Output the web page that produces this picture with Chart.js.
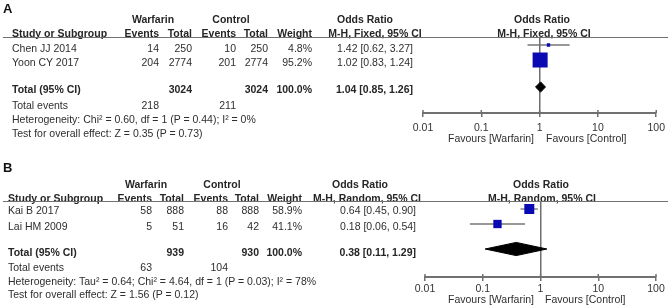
<!DOCTYPE html>
<html><head><meta charset="utf-8">
<script src="https://cdn.jsdelivr.net/npm/chart.js@4/dist/chart.umd.min.js"></script>
<style>
html,body{margin:0;padding:0;background:#fff;}
#wrap{position:relative;width:670px;height:308px;overflow:hidden;font-family:"Liberation Sans",Arial,sans-serif;font-size:10.5px;color:#2e2e2e;}
.t{position:absolute;white-space:nowrap;line-height:12px;}
.b{font-weight:bold;color:#262626;}
.lbl{font-weight:bold;font-size:13px;line-height:14px;color:#111;}
.cv{position:absolute;left:0;width:670px;height:154px;}
.hl{position:absolute;left:3px;width:665px;height:0;border-top:1.5px solid #707070;}
</style></head><body>
<div id="wrap">
 <div class="cv" style="top:0"><canvas id="cA" width="670" height="154"></canvas></div>
 <div class="cv" style="top:154px"><canvas id="cB" width="670" height="154"></canvas></div>
</div>
<script>
// ---------- DATA (panel A) ----------
const studiesA      = ["Chen JJ 2014", "Yoon CY 2017"];
const warfEventsA   = [14, 204];
const warfTotalA    = [250, 2774];
const ctrlEventsA   = [10, 201];
const ctrlTotalA    = [250, 2774];
const weightA       = [4.8, 95.2];
const orA           = [1.42, 1.02];
const orLowA        = [0.62, 0.83];
const orHighA       = [3.27, 1.24];
const pooledA       = [1.04, 0.85, 1.26];
const totalsA       = [3024, 3024];
const totalEventsA  = [218, 211];
const hetA          = "Heterogeneity: Chi\u00B2 = 0.60, df = 1 (P = 0.44); I\u00B2 = 0%";
const testA         = "Test for overall effect: Z = 0.35 (P = 0.73)";
const methodA       = "M-H, Fixed, 95% CI";

// ---------- DATA (panel B) ----------
const studiesB      = ["Kai B 2017", "Lai HM 2009"];
const warfEventsB   = [58, 5];
const warfTotalB    = [888, 51];
const ctrlEventsB   = [88, 16];
const ctrlTotalB    = [888, 42];
const weightB       = [58.9, 41.1];
const orB           = [0.64, 0.18];
const orLowB        = [0.45, 0.06];
const orHighB       = [0.90, 0.54];
const pooledB       = [0.38, 0.11, 1.29];
const totalsB       = [939, 930];
const totalEventsB  = [63, 104];
const hetB          = "Heterogeneity: Tau\u00B2 = 0.64; Chi\u00B2 = 4.64, df = 1 (P = 0.03); I\u00B2 = 78%";
const testB         = "Test for overall effect: Z = 1.56 (P = 0.12)";
const methodB       = "M-H, Random, 95% CI";

// ---------- AXIS ----------
const tickValues = [0.01, 0.1, 1, 10, 100];
const tickLabels = ["0.01", "0.1", "1", "10", "100"];
const favLeft  = "Favours [Warfarin]";
const favRight = "Favours [Control]";

// ---------- LAYOUT (positions / styles) ----------
const FONT = '"Liberation Sans", Arial, sans-serif';
const LA = {
  letter:"A", top:0, leftX:12, lineY:37,
  col:{e1:159,t1:192,e2:236,t2:268,w:312,or:413},
  grp:{warf:153,ctrl:231,or1:365,mh1:375,or2:542,mh2:544},
  y:{h1:19,h2:33,rows:[48,62],total:89,te:105,het:119,test:133,fav:138},
  fav:{r:534,l:546}, lab:{x:3,y:9},
  pad:{left:423,right:12,top:37,bottom:11}, tickPad:5,
  yMin:0.467, yMax:5.533, totalRow:3.8, diaH:0.34, boxK:1.54
};
const LB = {
  letter:"B", top:154, leftX:8, lineY:201,
  col:{e1:152,t1:184,e2:228,t2:259,w:302,or:416},
  grp:{warf:146,ctrl:222,or1:360,mh1:367,or2:541,mh2:542},
  y:{h1:184,h2:198,rows:[210,226],total:252,te:267,het:281,test:294,fav:299},
  fav:{r:534,l:545}, lab:{x:3,y:168},
  pad:{left:425,right:14,top:47,bottom:1}, tickPad:2,
  yMin:0.467, yMax:5.533, totalRow:3.667, diaH:0.44, boxK:1.30
};

const wrap = document.getElementById('wrap');
function txt(x, y, s, align, cls) {
  const d = document.createElement('div');
  d.className = 't' + (cls ? ' ' + cls : '');
  d.textContent = s;
  const lh = cls === 'lbl' ? 7 : 6;
  d.style.top = (y - lh) + 'px';
  if (align === 'r') d.style.right = (670 - x) + 'px';
  else if (align === 'c') { d.style.left = x + 'px'; d.style.transform = 'translateX(-50%)'; }
  else d.style.left = x + 'px';
  wrap.appendChild(d);
}

function table(P, L) {
  const c = L.col, g = L.grp, y = L.y;
  txt(L.lab.x, L.lab.y, L.letter, 'l', 'lbl');
  txt(g.warf, y.h1, "Warfarin", 'c', 'b');
  txt(g.ctrl, y.h1, "Control", 'c', 'b');
  txt(g.or1, y.h1, "Odds Ratio", 'c', 'b');
  txt(g.or2, y.h1, "Odds Ratio", 'c', 'b');
  txt(L.leftX, y.h2, "Study or Subgroup", 'l', 'b');
  txt(c.e1, y.h2, "Events", 'r', 'b');
  txt(c.t1, y.h2, "Total", 'r', 'b');
  txt(c.e2, y.h2, "Events", 'r', 'b');
  txt(c.t2, y.h2, "Total", 'r', 'b');
  txt(c.w, y.h2, "Weight", 'r', 'b');
  txt(g.mh1, y.h2, P.method, 'c', 'b');
  txt(g.mh2, y.h2, P.method, 'c', 'b');
  const hl = document.createElement('div');
  hl.className = 'hl'; hl.style.top = L.lineY + 'px'; wrap.appendChild(hl);
  P.studies.forEach((s, i) => {
    const yy = y.rows[i];
    txt(L.leftX, yy, s, 'l');
    txt(c.e1, yy, String(P.we[i]), 'r');
    txt(c.t1, yy, String(P.wt[i]), 'r');
    txt(c.e2, yy, String(P.ce[i]), 'r');
    txt(c.t2, yy, String(P.ct[i]), 'r');
    txt(c.w, yy, P.weight[i].toFixed(1) + '%', 'r');
    txt(c.or, yy, P.or[i].toFixed(2) + ' [' + P.lo[i].toFixed(2) + ', ' + P.hi[i].toFixed(2) + ']', 'r');
  });
  txt(L.leftX, y.total, "Total (95% CI)", 'l', 'b');
  txt(c.t1, y.total, String(P.totals[0]), 'r', 'b');
  txt(c.t2, y.total, String(P.totals[1]), 'r', 'b');
  txt(c.w, y.total, "100.0%", 'r', 'b');
  txt(c.or, y.total, P.pooled[0].toFixed(2) + ' [' + P.pooled[1].toFixed(2) + ', ' + P.pooled[2].toFixed(2) + ']', 'r', 'b');
  txt(L.leftX, y.te, "Total events", 'l');
  txt(c.e1, y.te, String(P.tev[0]), 'r');
  txt(c.e2, y.te, String(P.tev[1]), 'r');
  txt(L.leftX, y.het, P.het, 'l');
  txt(L.leftX, y.test, P.test, 'l');
  txt(L.fav.r, y.fav, favLeft, 'r');
  txt(L.fav.l, y.fav, favRight, 'l');
}

const upTicks = {
  id: 'upTicks',
  afterDraw(chart) {
    const s = chart.scales.x, ctx = chart.ctx, b = chart.chartArea.bottom;
    ctx.save();
    ctx.strokeStyle = '#707070'; ctx.lineWidth = 1.5;
    tickValues.forEach(v => {
      const x = s.getPixelForValue(v);
      ctx.beginPath(); ctx.moveTo(x, b - 3); ctx.lineTo(x, b); ctx.stroke();
    });
    ctx.restore();
  }
};

function chart(id, P, L) {
  const rows = P.studies.map((_, i) => i + 1);
  const ds = [];
  P.studies.forEach((s, i) => {
    ds.push({ type:'line', data:[{x:P.lo[i], y:rows[i]}, {x:P.hi[i], y:rows[i]}],
      borderColor:'#767676', borderWidth:1.3, pointRadius:0, fill:false, order:3 });
  });
  ds.push({ type:'scatter', data:P.or.map((v, i) => ({x:v, y:rows[i]})),
    pointStyle:'rect', pointRadius:P.weight.map(w => L.boxK * Math.sqrt(w) / Math.SQRT2),
    backgroundColor:'#0a0ab4', borderColor:'#0a0ab4', borderWidth:0, order:1 });
  const [e, lo, hi] = P.pooled, ty = L.totalRow, h = L.diaH;
  ds.push({ type:'line', data:[{x:lo,y:ty},{x:e,y:ty-h},{x:hi,y:ty},{x:e,y:ty+h},{x:lo,y:ty}],
    borderColor:'#000', backgroundColor:'#000', borderWidth:1, pointRadius:0, fill:'shape', tension:0, order:2 });
  return new Chart(document.getElementById(id), {
    type:'scatter',
    data:{ datasets: ds },
    plugins:[upTicks],
    options:{
      responsive:false, animation:false, events:[],
      layout:{ padding:L.pad },
      plugins:{ legend:{display:false}, tooltip:{enabled:false} },
      scales:{
        x:{ type:'logarithmic', min:0.01, max:100, position:'bottom',
          afterBuildTicks(s){ s.ticks = tickValues.map(v => ({value:v})); },
          afterFit(s){ s.height = 30; },
          ticks:{ autoSkip:false, maxRotation:0, padding:L.tickPad, color:'#333',
            font:{family:FONT, size:10.5},
            callback:(v, i) => tickLabels[i] },
          grid:{ drawOnChartArea:true, tickLength:4, lineWidth:1.5, tickColor:'#707070', tickWidth:1.5,
            color: ctx => (ctx.tick && ctx.tick.value === 1) ? '#6e6e6e' : 'rgba(0,0,0,0)' },
          border:{ display:true, color:'#707070', width:2 }
        },
        y:{ display:false, min:L.yMin, max:L.yMax, reverse:true }
      }
    }
  });
}

const PA = { studies:studiesA, we:warfEventsA, wt:warfTotalA, ce:ctrlEventsA, ct:ctrlTotalA, weight:weightA,
  or:orA, lo:orLowA, hi:orHighA, pooled:pooledA, totals:totalsA, tev:totalEventsA, het:hetA, test:testA, method:methodA };
const PB = { studies:studiesB, we:warfEventsB, wt:warfTotalB, ce:ctrlEventsB, ct:ctrlTotalB, weight:weightB,
  or:orB, lo:orLowB, hi:orHighB, pooled:pooledB, totals:totalsB, tev:totalEventsB, het:hetB, test:testB, method:methodB };

table(PA, LA);
table(PB, LB);
chart('cA', PA, LA);
chart('cB', PB, LB);
</script>
</body></html>
